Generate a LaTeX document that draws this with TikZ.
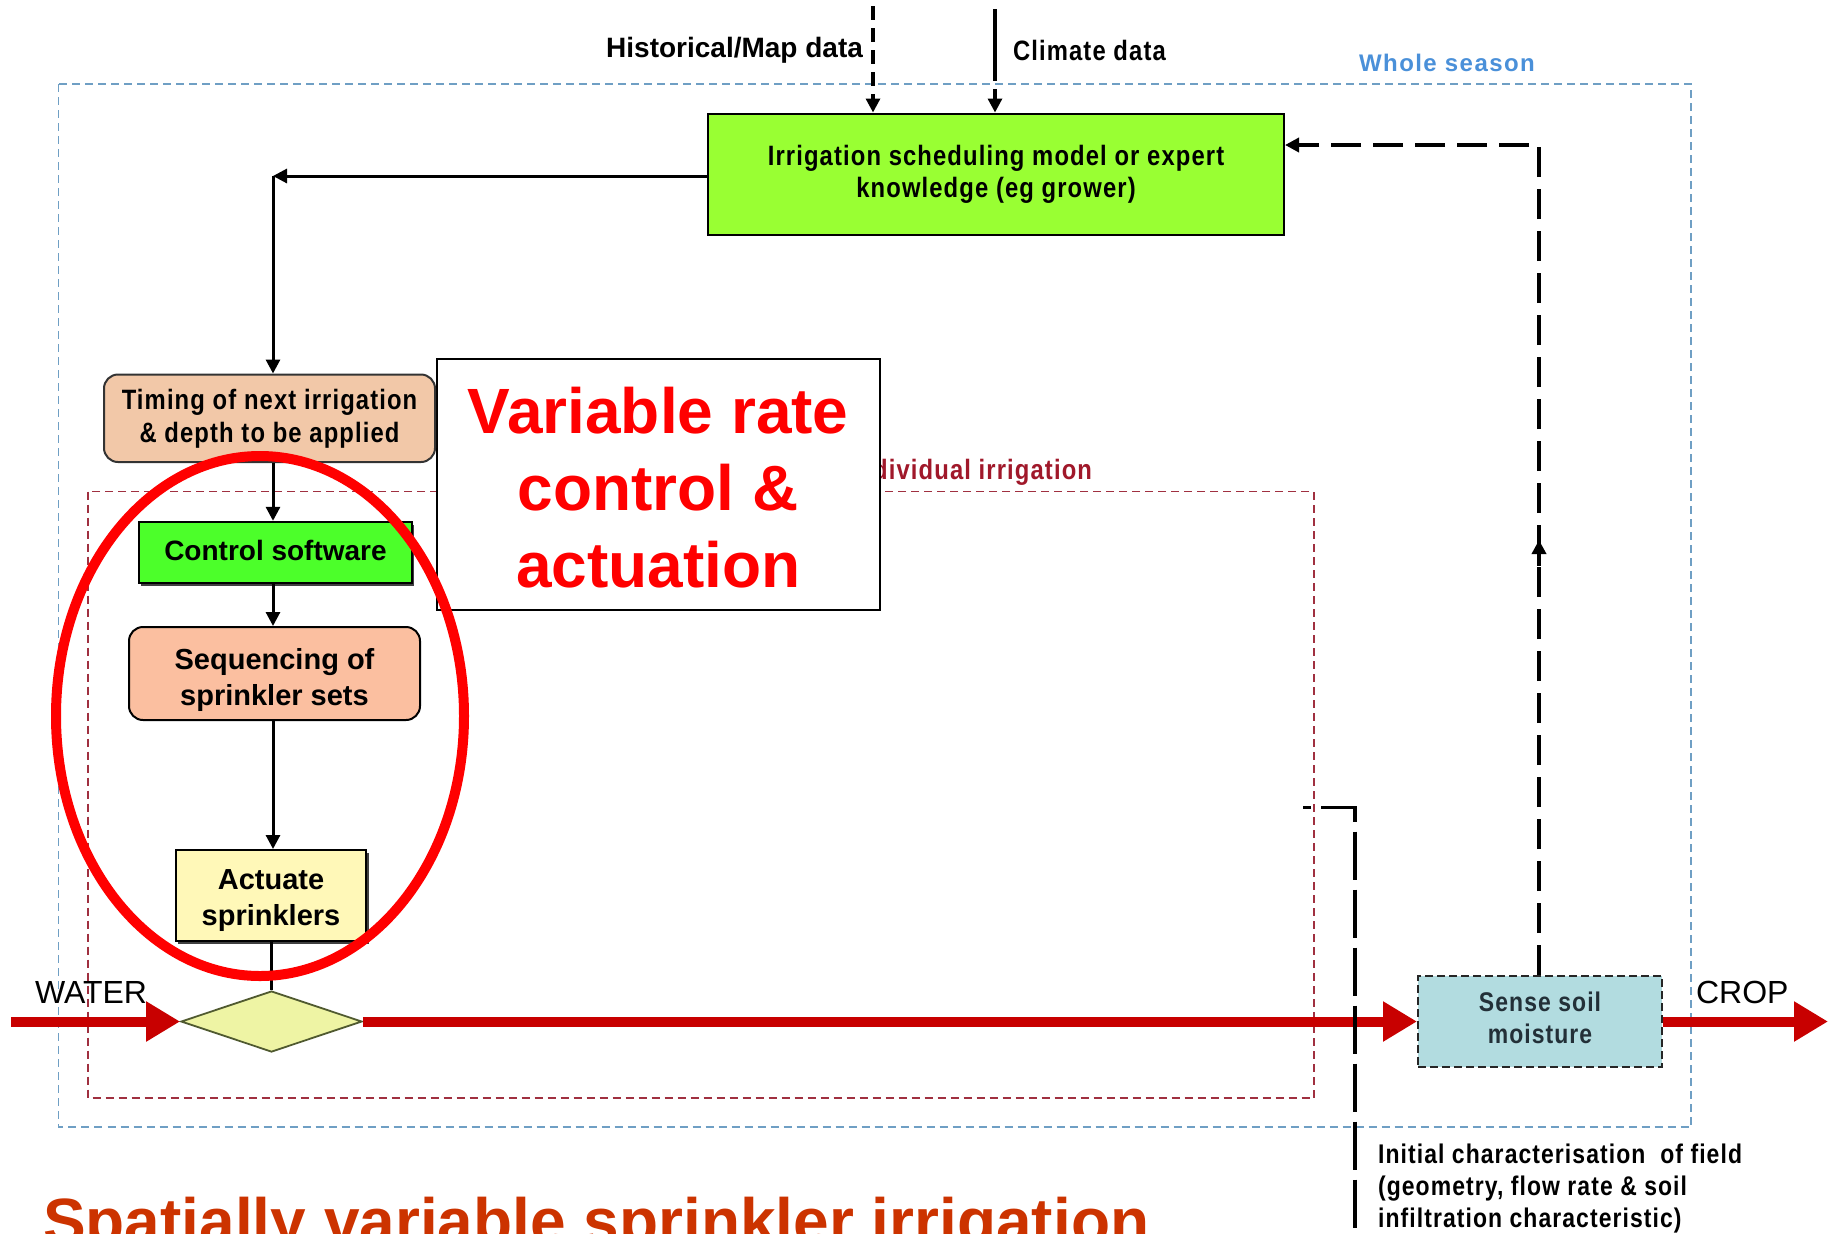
\documentclass[tikz,border=0pt]{standalone}
\usepackage{fontspec}
\setmainfont{Liberation Sans}
\newfontfamily\narrowbf[FakeStretch=0.85,LetterSpace=4]{Liberation Sans}
\newfontfamily\spacedbf[LetterSpace=6]{Liberation Sans}
\usetikzlibrary{arrows.meta,shapes.geometric,shadows}

\definecolor{modelgreen}{HTML}{99FF33}
\definecolor{timingtan}{HTML}{F2C8A8}
\definecolor{controlgreen}{HTML}{4CFF2A}
\definecolor{seqsalmon}{HTML}{FBBFA0}
\definecolor{actyellow}{HTML}{FFF8B8}
\definecolor{valvefill}{HTML}{EEF4A4}
\definecolor{valveedge}{HTML}{505A30}
\definecolor{sensefill}{HTML}{B2DCE0}
\definecolor{seasonblue}{HTML}{6F9FC4}
\definecolor{seasontext}{HTML}{4A90D9}
\definecolor{eventred}{HTML}{A03040}
\definecolor{eventtext}{HTML}{A0182A}
\definecolor{flowred}{HTML}{C80000}
\definecolor{hotred}{HTML}{FF0000}
\definecolor{titleorange}{HTML}{CC3300}
\definecolor{sensetext}{HTML}{233038}

\tikzset{
  box/.style={draw=black, line width=1pt, inner sep=2pt, align=center, text=black},
  roundbox/.style={box, rounded corners=7pt},
  boxtext/.style={align=center, inner sep=0pt},
  narrowfont/.style args={#1/#2}{font=\fontsize{#1}{#2}\narrowbf\bfseries},
  plainbold/.style args={#1/#2}{font=\fontsize{#1}{#2}\selectfont\bfseries},
  boxshadow/.style={drop shadow={shadow xshift=1.2pt, shadow yshift=-1.4pt, fill=black!75, opacity=1}},
  link/.style={line width=1.5pt, -{Triangle[length=7pt,width=7pt]}},
  datalink/.style={line width=1.6pt, -{Triangle[length=7pt,width=7pt]}},
  feedback/.style={line width=1.8pt, dash pattern=on 15pt off 6pt},
  waterflow/.style={draw=flowred, line width=5pt, -{Triangle[length=17pt,width=19pt]}},
  zone/.style={line width=0.7pt, dash pattern=on 4pt off 2.5pt},
}

\begin{document}
\begin{tikzpicture}[x=0.5pt,y=-0.5pt]
\useasboundingbox (0,0) rectangle (1835,1233);
\clip (0,0) rectangle (1835,1233);
\fill[white] (0,0) rectangle (1835,1233);

% zones
\draw[zone, draw=seasonblue] (58.5,84) rectangle (1691,1127);
\draw[zone, draw=eventred] (88,491.5) rectangle (1314,1098);
\node[narrowfont=14pt/16pt, text=eventtext, anchor=east] (eventlbl) at (1099,472) {Individual irrigation};
\node[font=\fontsize{12pt}{14pt}\spacedbf\bfseries, text=seasontext, anchor=west] (seasonlbl) at (1352,63) {Whole season};

% callout
\node[box, fill=white, minimum width=221.75pt, minimum height=125.5pt] (callout) at (658.25,484.5) {};
\node[boxtext, font=\fontsize{32pt}{38.5pt}\selectfont\bfseries, text=hotred] (callouttext)
      at ([yshift=-1.8pt]callout.center) {Variable rate\\control \&\\actuation};

% process nodes
\node[box, fill=modelgreen, minimum width=288pt, minimum height=60.75pt, narrowfont=14pt/16pt] (model)
      at (996,174.25) {Irrigation scheduling model or expert\\knowledge (eg grower)};
\node[roundbox, draw=black!80, fill=timingtan, minimum width=165.5pt, minimum height=43.75pt, narrowfont=14pt/16.5pt] (timing)
      at (269.5,418.25) {Timing of next irrigation\\\& depth to be applied};
\node[box, line width=1.2pt, fill=controlgreen, minimum width=136.5pt, minimum height=30.5pt, boxshadow] (control)
      at (275.5,552.5) {};
\node[boxtext, plainbold=14pt/17pt] (controltext) at ([yshift=1pt]control.center) {Control software};
\node[roundbox, fill=seqsalmon, minimum width=145.5pt, minimum height=46.5pt] (sequencing)
      at (274.5,673.5) {};
\node[boxtext, plainbold=14.5pt/18pt] (seqtext) at ([yshift=-3pt]sequencing.center) {Sequencing of\\sprinkler sets};
\node[box, fill=actyellow, minimum width=95.25pt, minimum height=45.5pt, boxshadow] (actuate)
      at (271,895.5) {};
\node[boxtext, plainbold=14.5pt/18pt] (acttext) at ([yshift=-2.3pt]actuate.center) {Actuate\\sprinklers};
\node[diamond, draw=valveedge, line width=0.9pt, fill=valvefill, minimum width=90.5pt, minimum height=30.5pt, inner sep=0pt] (valve)
      at (271.5,1021.5) {};
\node[box, dash pattern=on 4pt off 2pt, draw=black!85, fill=sensefill, minimum width=122pt, minimum height=45.5pt]
      (sense) at (1540,1021.5) {};
\node[boxtext, narrowfont=13.5pt/16pt, text=sensetext] (sensetext) at ([yshift=1.6pt]sense.center) {Sense soil\\moisture};

% labels
\node[plainbold=14pt/17pt, anchor=east] (histlbl) at (870,50) {Historical/Map data};
\node[narrowfont=14pt/17pt, anchor=west] (climlbl) at (1006,50) {Climate data};
\node[font=\fontsize{16pt}{19pt}\selectfont, anchor=west] (waterlbl) at (28,992) {WATER};
\node[font=\fontsize{16pt}{19pt}\selectfont, anchor=west] (croplbl) at (1689,992) {CROP};
\node[align=left, anchor=west, font=\fontsize{13.5pt}{16pt}\narrowbf\bfseries] (charlbl) at (1371,1188)
      {Initial characterisation \ of field\\(geometry, flow rate \& soil\\infiltration characteristic)};
\node[plainbold=32pt/36pt, text=titleorange, anchor=base west] (title) at (36,1243) {Spatially variable sprinkler irrigation};

% coordinates for connectors
\coordinate (spine) at (273,0);
\coordinate (turn) at (273,176);
\coordinate (histtop) at (873,6);
\coordinate (climtop) at (995,9);
\coordinate (fbcorner) at (1539,145);
\coordinate (fbmidbase) at (1539,566);
\coordinate (fbmidtip) at (1539,540);
\coordinate (chstart) at (1303,807.5);
\coordinate (chcorner) at (1355,807.5);
\coordinate (chend) at (1355,1240);
\coordinate (waterin) at (11,1021.5);
\coordinate (cropout) at (1828,1021.5);

% data inputs
\draw[datalink, dash pattern=on 7pt off 4pt] (histtop) -- (histtop |- model.north);
\draw[datalink, dash pattern=on 36pt off 4pt] (climtop) -- (climtop |- model.north);

% decision chain
\draw[link] (model.west |- turn) -- (turn);
\draw[link] (turn) -- (timing.north -| spine);
\draw[link] (timing.south -| spine) -- (control.north -| spine);
\draw[link] (control.south -| spine) -- (sequencing.north -| spine);
\draw[link] (sequencing.south -| spine) -- (actuate.north -| spine);
\draw[line width=1.5pt] (actuate.south -| valve.north) -- (valve.north);

% feedback from soil moisture sensing
\draw[feedback, -{Triangle[length=7pt,width=7pt]}] (sense.north -| fbcorner) -- (fbcorner) -- (model.east |- fbcorner);
\draw[line width=1.8pt, -{Triangle[length=7pt,width=7pt]}] (fbmidbase) -- (fbmidtip);

% water flow
\draw[waterflow] (waterin) -- (valve.west);
\draw[waterflow] (valve.east) -- (sense.west);
\draw[waterflow] (sense.east) -- (cropout);

% field characterisation input
\draw[line width=1.8pt, dash pattern=on 24pt off 5pt, dash phase=20pt] (chstart) -- (chcorner) -- (chend);

% highlight ring
\draw[draw=hotred, line width=5pt] (260,716) ellipse [x radius=102pt, y radius=130pt];
\end{tikzpicture}
\end{document}
